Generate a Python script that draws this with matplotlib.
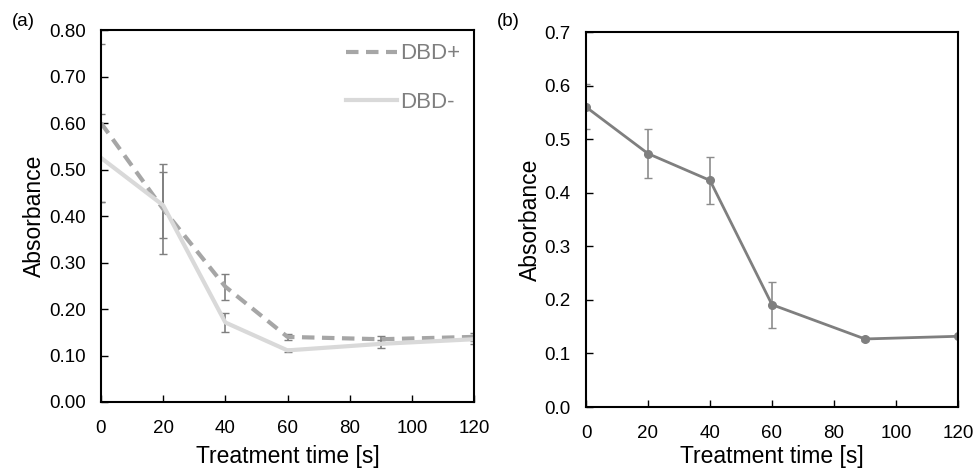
import matplotlib
matplotlib.use("Agg")
import matplotlib.pyplot as plt
from matplotlib.ticker import FormatStrFormatter

plt.rcParams["font.family"] = ["Liberation Sans", "DejaVu Sans"]

# panel (a)
time_a = [0, 20, 40, 60, 90, 120]
dbd_plus = [0.600, 0.415, 0.248, 0.140, 0.135, 0.140]
dbd_plus_err = [0.170, 0.097, 0.028, 0.007, 0.006, 0.008]
dbd_minus = [0.525, 0.423, 0.171, 0.111, 0.125, 0.135]
dbd_minus_err = [0.095, 0.071, 0.021, 0.004, 0.008, 0.010]

# panel (b)
time_b = [0, 20, 40, 60, 90, 120]
absorb_b = [0.560, 0.473, 0.423, 0.191, 0.127, 0.132]
absorb_b_err = [0.042, 0.046, 0.044, 0.043, 0.004, 0.0]

fig = plt.figure(figsize=(9.76, 4.69), dpi=100)
ax_a = fig.add_axes([101 / 976, 1 - 402 / 469, 373 / 976, 372 / 469])
ax_b = fig.add_axes([586 / 976, 1 - 407 / 469, 372 / 976, 375 / 469])

err_color = "#7f7f7f"

eb_plus = ax_a.errorbar(time_a, dbd_plus, yerr=dbd_plus_err, color="#a6a6a6",
                        lw=3, ls=(0, (3, 1.8)), ecolor=err_color,
                        elinewidth=1.2, capsize=3, capthick=1)
eb_minus = ax_a.errorbar(time_a, dbd_minus, yerr=dbd_minus_err,
                         color="#d9d9d9", lw=3, ecolor=err_color,
                         elinewidth=1.2, capsize=3, capthick=1)
ax_a.set_ylim(0, 0.8)
ax_a.set_yticks([i / 10 for i in range(9)])
ax_a.yaxis.set_major_formatter(FormatStrFormatter("%.2f"))
leg = ax_a.legend([eb_plus.lines[0], eb_minus.lines[0]], ["DBD+", "DBD-"],
                  loc="upper right", frameon=False, fontsize=16,
                  handlelength=2.3, handletextpad=0.15, labelspacing=1.25,
                  borderaxespad=0.2)
for t in leg.get_texts():
    t.set_color("#7f7f7f")

ax_b.errorbar(time_b, absorb_b, yerr=absorb_b_err, color="#7f7f7f", lw=2,
              marker="o", ms=5.5, ecolor="#8c8c8c", elinewidth=1.2,
              capsize=3, capthick=1)
ax_b.set_ylim(0, 0.7)
ax_b.set_yticks([i / 10 for i in range(8)])
ax_b.yaxis.set_major_formatter(FormatStrFormatter("%.1f"))

for ax in (ax_a, ax_b):
    ax.set_xlim(0, 120)
    ax.set_xticks(range(0, 121, 20))
    ax.tick_params(direction="in", length=5, width=1, labelsize=13.5,
                   pad=11, colors="black")
    ax.tick_params(axis="x", pad=13)
    for s in ax.spines.values():
        s.set_linewidth(1.5)
    ax.set_ylabel("Absorbance", fontsize=16.5, labelpad=2)
ax_a.set_xlabel("Treatment time [s]", fontsize=16.5, labelpad=6)
ax_b.set_xlabel("Treatment time [s]", fontsize=16.5, labelpad=2)

fig.text(12 / 976, 1 - 22 / 469, "(a)", fontsize=13.5, va="center")
fig.text(497 / 976, 1 - 22 / 469, "(b)", fontsize=13.5, va="center")

fig.savefig("out.png", dpi=100)
